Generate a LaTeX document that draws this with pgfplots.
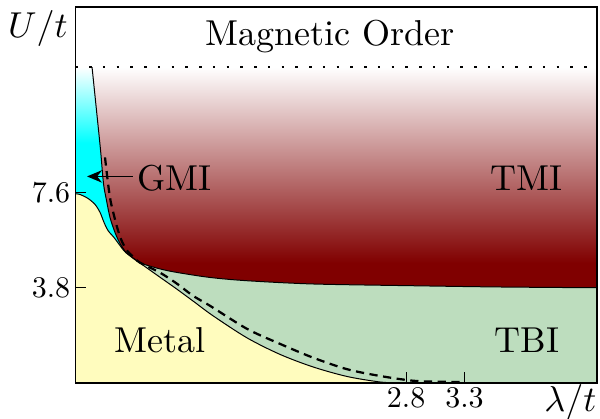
\documentclass[border=0pt]{standalone}
\usepackage{fontspec}
\usepackage{pgfplots}
\pgfplotsset{compat=1.18}
\usetikzlibrary{arrows.meta}

\definecolor{maroonc}{RGB}{128,0,0}
\definecolor{metalc}{RGB}{255,252,190}
\definecolor{tbic}{RGB}{189,221,190}
\definecolor{gmic}{RGB}{0,255,255}
% bottom -> top, the path box sits between 25bp and 75bp
\pgfdeclareverticalshading{tmishade}{100bp}{color(0bp)=(maroonc); color(44bp)=(maroonc); color(75bp)=(white); color(100bp)=(white)}
\pgfdeclareverticalshading{gmishade}{100bp}{color(0bp)=(gmic); color(63bp)=(gmic); color(75bp)=(white); color(100bp)=(white)}

\tikzset{lbl/.style={font=\normalsize, scale=1.44}}

% GMI / TMI boundary
\pgfplotstableread{
x y
0.109 12.60
0.147 10.88
0.182 9.28
0.207 7.96
0.233 7.28
0.263 6.60
0.306 6.00
0.349 5.56
0.400 5.20
}\gmiline

% metal boundary, from the U axis to the lambda axis
\pgfplotstableread{
x y
-0.035 7.55
0.006 7.52
0.075 7.36
0.135 7.12
0.178 6.80
0.212 6.40
0.246 6.08
0.298 5.80
0.349 5.48
0.400 5.20
0.546 4.70
0.691 4.22
0.837 3.74
0.983 3.24
1.146 2.68
1.437 1.80
1.720 1.14
2.003 0.64
2.294 0.26
2.577 0.04
2.749 0.00
}\metalline

% TMI / TBI boundary
\pgfplotstableread{
x y
0.400 5.20
0.477 4.92
0.546 4.75
0.692 4.55
0.837 4.41
1.120 4.21
1.437 4.08
2.003 3.95
2.860 3.88
3.605 3.83
4.436 3.80
}\tbiline

% dashed curve
\pgfplotstableread{
x y
0.220 9.00
0.246 7.96
0.267 7.28
0.297 6.68
0.332 6.08
0.366 5.64
0.409 5.28
0.460 5.04
0.520 4.80
0.692 4.40
0.837 3.96
0.974 3.48
1.120 3.08
1.437 2.16
1.720 1.56
2.003 1.01
2.294 0.55
2.577 0.28
2.860 0.09
3.090 0.05
3.300 0.04
}\dashline

\begin{document}
\begin{tikzpicture}
\begin{axis}[
  scale only axis, width=208.7pt, height=150.4pt,
  xmin=-0.035, xmax=4.436, ymin=0, ymax=15,
  xtick={2.8,3.3}, ytick={3.8,7.6},
  tick pos=left, tick style={black, thin},
  ticklabel style={font=\normalsize, scale=1.2, inner sep=1.5pt},
  axis on top, clip=false,
  axis line style={line width=0.5pt},
]
  % TMI background
  \addplot[draw=none, shading=tmishade] coordinates {(-0.035,0) (4.436,0) (4.436,12.6) (-0.035,12.6)} -- cycle;
  % TBI
  \addplot[draw=none, fill=tbic, smooth] table {\tbiline} -- (axis cs:4.436,0) -- (axis cs:0.4,0) -- cycle;
  % GMI
  \addplot[draw=none, shading=gmishade, smooth] table {\gmiline} -- (axis cs:0.4,0) -- (axis cs:-0.035,0) -- (axis cs:-0.035,12.6) -- cycle;
  % Metal
  \addplot[draw=none, fill=metalc, smooth] table {\metalline} -- (axis cs:-0.035,0) -- cycle;

  % phase boundaries
  \addplot[black, line width=0.4pt, smooth] table {\gmiline};
  \addplot[black, line width=0.4pt, smooth] table {\metalline};
  \addplot[black, line width=0.4pt, smooth] table {\tbiline};
  \addplot[black, line width=0.9pt, dash pattern=on 3.3pt off 2.2pt, smooth] table {\dashline};
  \addplot[black, line width=1pt, dash pattern=on 1pt off 4.5pt] coordinates {(-0.035,12.6) (4.436,12.6)};

  \draw[-{Stealth[length=6pt,width=5pt]}, line width=0.5pt] (axis cs:0.459,8.24) -- (axis cs:0.066,8.24);

  \node[lbl, anchor=base] at (axis cs:2.15,13.45) {Magnetic Order};
  \node[lbl, anchor=base] at (axis cs:0.813,7.68) {GMI};
  \node[lbl, anchor=base] at (axis cs:3.836,7.68) {TMI};
  \node[lbl, anchor=base] at (axis cs:3.836,1.2) {TBI};
  \node[lbl, anchor=base] at (axis cs:0.692,1.2) {Metal};
  \node[lbl, anchor=base east, inner sep=0pt] at ([xshift=-2.8pt]axis cs:-0.035,13.8) {$U/t$};
  \node[lbl, anchor=base east, inner sep=0pt] at ([yshift=-11.5pt]rel axis cs:1,0) {$\lambda/t$};
  \coordinate (ll) at (rel axis cs:0,0);
\end{axis}
\pgfresetboundingbox
\path[use as bounding box] ([shift={(-30.1pt,-14.4pt)}]ll) rectangle ([shift={(209.9pt,153.2pt)}]ll);
\end{tikzpicture}
\end{document}
